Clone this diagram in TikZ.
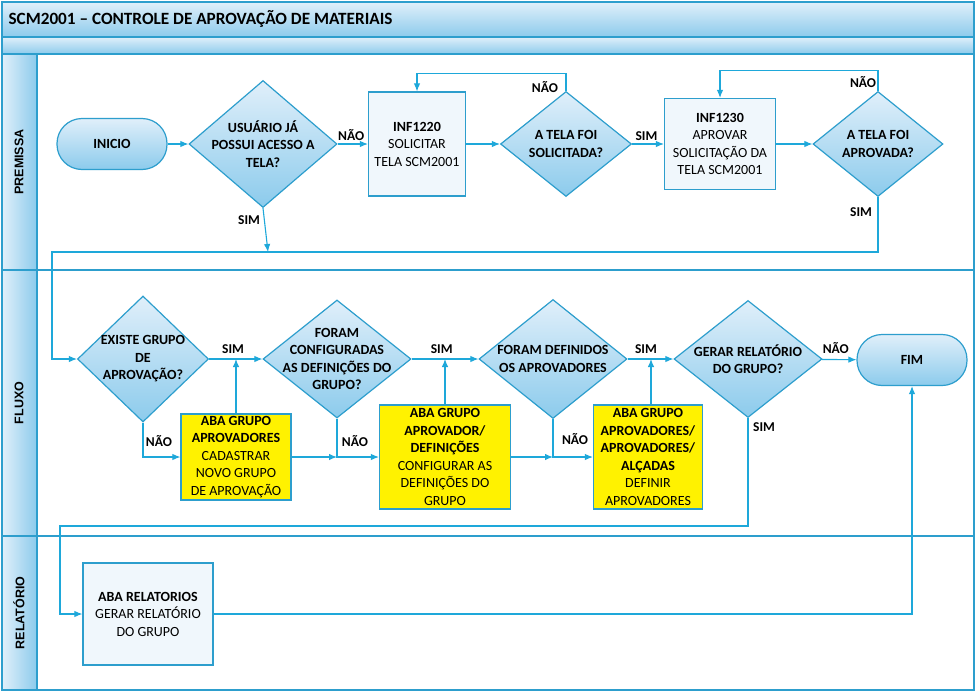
\documentclass[tikz,border=0pt]{standalone}
\usepackage{fontspec}
\setmainfont{Carlito}
\newfontfamily\lanefont{Liberation Sans}
\usetikzlibrary{positioning}
\usetikzlibrary{shapes.geometric}
\usetikzlibrary{arrows.meta}
\usetikzlibrary{calc}

\definecolor{linecyan}{RGB}{30,168,218}
\definecolor{framecyan}{RGB}{45,158,205}
\definecolor{shadetop}{RGB}{224,239,250}
\definecolor{shadebot}{RGB}{140,203,236}
\definecolor{boxfill}{RGB}{240,247,252}

\tikzset{
  flow/.style={draw=linecyan, line width=1.1pt, -{Latex[length=8pt,width=6.5pt]}},
  plain/.style={draw=linecyan, line width=1.1pt},
  decision/.style={diamond, draw=framecyan, line width=1.2pt, inner sep=0pt,
    top color=shadetop, bottom color=shadebot},
  dtext/.style={align=center, font=\fontsize{14}{17.5}\selectfont\bfseries},
  terminal/.style={rectangle, rounded corners=25pt, draw=framecyan, line width=1.2pt,
    top color=shadetop, bottom color=shadebot, minimum width=110pt, minimum height=51pt,
    font=\fontsize{14}{17.5}\selectfont\bfseries},
  process/.style={rectangle, draw=framecyan, line width=1.2pt, fill=boxfill, align=center,
    inner sep=0pt, font=\fontsize{14}{17.5}\selectfont},
  yellowbox/.style={process, fill=yellow},
  answer/.style={font=\fontsize{13.5}{16}\selectfont\bfseries},
  lane/.style={draw=framecyan, line width=1.5pt, left color=shadetop, right color=shadebot},
  lanelabel/.style={rotate=90, font=\lanefont\fontsize{12.5}{14}\selectfont\bfseries}
}

\begin{document}
\begin{tikzpicture}[x=1pt, y=-1pt]
\useasboundingbox (0,0) rectangle (976,693);

% moldura e raias
\fill[white] (2,2) rectangle (974,690);
\draw[framecyan, line width=1.5pt, top color=shadetop, bottom color=shadebot] (2,2) rectangle (974,37);
\draw[framecyan, line width=1.5pt, top color=shadetop, bottom color=shadebot] (2,37) rectangle (974,54);
\node[anchor=west, font=\fontsize{17.2}{20}\selectfont\bfseries] (title) at (5,19) {SCM2001 -- CONTROLE DE APROVAÇÃO DE MATERIAIS};
\draw[framecyan, line width=1.5pt] (2,54) rectangle (974,270);
\draw[framecyan, line width=1.5pt] (2,270) rectangle (974,536);
\draw[framecyan, line width=1.5pt] (2,536) rectangle (974,690);
\draw[lane] (2,54) rectangle (37,270);
\draw[lane] (2,270) rectangle (37,536);
\draw[lane] (2,536) rectangle (37,690);
\node[lanelabel] (lpremissa) at (19,162) {PREMISSA};
\node[lanelabel] (lfluxo) at (19,403) {FLUXO};
\node[lanelabel] (lrelatorio) at (19,613) {RELATÓRIO};

% premissa
\node[terminal] (inicio) at (112,144) {INICIO};
\node[decision, minimum width=148pt, minimum height=127pt] (d1) at (263,144) {};
\node[dtext] at (d1) {USUÁRIO JÁ\\POSSUI ACESSO A\\TELA?};
\node[process, minimum width=97pt, minimum height=104pt] (inf1220) at (417,144)
  {\textbf{INF1220}\\SOLICITAR\\TELA SCM2001};
\node[decision, minimum width=131pt, minimum height=105pt] (d2) at (566,144) {};
\node[dtext] at (d2) {A TELA FOI\\SOLICITADA?};
\node[process, minimum width=111pt, minimum height=91pt] (inf1230) at (720,144)
  {\textbf{INF1230}\\APROVAR\\SOLICITAÇÃO DA\\TELA SCM2001};
\node[decision, minimum width=130pt, minimum height=105pt] (d3) at (878,144) {};
\node[dtext] at (d3) {A TELA FOI\\APROVADA?};

% fluxo
\node[decision, minimum width=131pt, minimum height=126pt] (d4) at (143,359) {};
\node[dtext] at (d4) {EXISTE GRUPO\\DE\\APROVAÇÃO?};
\node[yellowbox, minimum width=110pt, minimum height=86pt] (y1) at (236,457)
  {\textbf{ABA GRUPO}\\\textbf{APROVADORES}\\CADASTRAR\\NOVO GRUPO\\DE APROVAÇÃO};
\node[decision, minimum width=148pt, minimum height=118pt] (d5) at (337,359) {};
\node[dtext] at (d5) {FORAM\\CONFIGURADAS\\AS DEFINIÇÕES DO\\GRUPO?};
\node[yellowbox, minimum width=131pt, minimum height=104pt] (y2) at (445,457)
  {\textbf{ABA GRUPO}\\\textbf{APROVADOR/}\\\textbf{DEFINIÇÕES}\\CONFIGURAR AS\\DEFINIÇÕES DO\\GRUPO};
\node[decision, minimum width=148pt, minimum height=119pt] (d6) at (553,359) {};
\node[dtext] at (d6) {FORAM DEFINIDOS\\OS APROVADORES};
\node[yellowbox, minimum width=109pt, minimum height=104pt] (y3) at (648,457)
  {\textbf{ABA GRUPO}\\\textbf{APROVADORES/}\\\textbf{APROVADORES/}\\\textbf{ALÇADAS}\\DEFINIR\\APROVADORES};
\node[decision, minimum width=148pt, minimum height=117pt] (d7) at (748,359) {};
\node[dtext] at (d7) {GERAR RELATÓRIO\\DO GRUPO?};
\node[terminal] (fim) at (912,360) {FIM};

% relatorio
\node[process, minimum width=130pt, minimum height=102pt] (rel) at (148,614)
  {\textbf{ABA RELATORIOS}\\GERAR RELATÓRIO\\DO GRUPO};

% conectores premissa
\coordinate (c1) at (268,252);
\draw[flow] (inicio) -- (d1);
\draw[flow] (d1) -- (inf1220) node[answer, pos=0.45, above] {NÃO};
\draw[flow] (inf1220) -- (d2);
\draw[flow] (d2.north) -- ++(0,-17) -| (inf1220.north);
\node[answer] at (545,87) {NÃO};
\draw[flow] (d2) -- (inf1230) node[answer, pos=0.45, above] {SIM};
\draw[flow] (inf1230) -- (d3);
\draw[flow] (d3.north) -- ++(0,-20) -| (inf1230.north);
\node[answer] at (863,82) {NÃO};
\draw[flow] (d1.south) -- (c1);
\node[answer] at (249,220) {SIM};
\draw[flow] (d3.south) |- (52,252) |- (d4.west);
\node[answer] at (861,212) {SIM};

% conectores fluxo
\draw[flow] (d4) -- (d5) node[answer, pos=0.45, above=2pt] {SIM};
\draw[flow] (y1.north) -- (y1.north |- d4.east);
\draw[flow] (d4.south) |- (y1.west);
\node[answer] at (159,441) {NÃO};
\coordinate (j1) at (d5.south |- y1.east);
\draw[flow] (y1.east) -- (j1);
\draw[flow] (d5.south) |- (y2.west);
\node[answer] at (355,441) {NÃO};

\draw[flow] (d5) -- (d6) node[answer, pos=0.45, above=2pt] {SIM};
\draw[flow] (y2.north) -- (y2.north |- d5.east);
\coordinate (j2) at (d6.south |- y2.east);
\draw[flow] (y2.east) -- (j2);
\draw[flow] (d6.south) |- (y3.west);
\node[answer] at (575,439) {NÃO};

\draw[flow] (d6) -- (d7) node[answer, pos=0.4, above=2pt] {SIM};
\draw[flow] ($(y3.north)+(3,0)$) -- ($(y3.north |- d6.east)+(3,0)$);
\draw[flow] (d7) -- (fim) node[answer, pos=0.4, above=2pt] {NÃO};

\draw[flow] (d7.south) |- (60,526) |- (rel.west);
\node[answer] at (764,427) {SIM};
\draw[flow] (rel.east) -| (fim.south);

\end{tikzpicture}
\end{document}
